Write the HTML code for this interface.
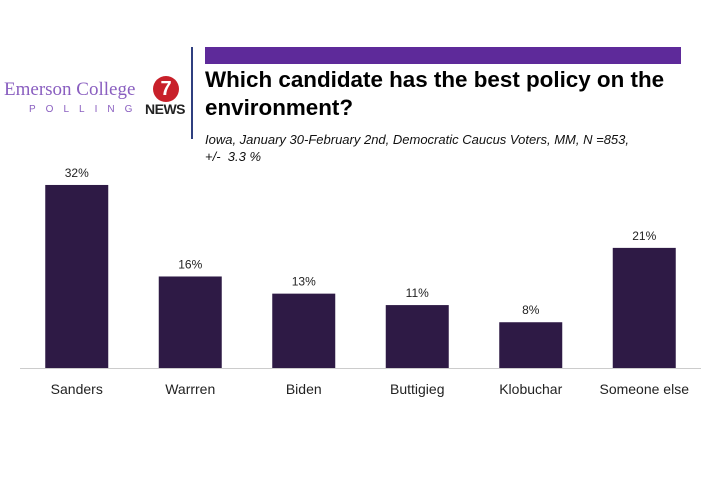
<!DOCTYPE html>
<html><head><meta charset="utf-8"><style>
body{margin:0;width:720px;height:498px;background:#fff;position:relative;overflow:hidden;font-family:"Liberation Sans",sans-serif}
.abs{position:absolute}
</style></head><body>
<div class="abs" style="left:4px;top:79px;font-family:'Liberation Serif',serif;font-size:19px;color:#8a5fc0;white-space:nowrap">Emerson College</div>
<div class="abs" style="left:29px;top:104px;font-size:10px;letter-spacing:10px;color:#8a5fc0">POLLING</div>
<div class="abs" style="left:153px;top:76px;width:26px;height:26px;border-radius:50%;background:#c8202a;color:#fff;font-weight:bold;font-size:20px;text-align:center;line-height:26px">7</div>
<div class="abs" style="left:145px;top:101px;font-weight:bold;font-size:14px;color:#222;letter-spacing:-0.5px">NEWS</div>
<div class="abs" style="left:191px;top:47px;width:2px;height:92px;background:#2f3f7f"></div>
<div class="abs" style="left:205px;top:47px;width:476px;height:17px;background:#5e2a9a"></div>
<div class="abs" style="left:205px;top:66px;font-weight:bold;font-size:22.4px;line-height:28px;color:#000">Which candidate has the best policy on the<br>environment?</div>
<div class="abs" style="left:205px;top:131px;font-style:italic;font-size:13px;line-height:17px;color:#111">Iowa, January 30-February 2nd, Democratic Caucus Voters, MM, N =853,<br>+/-&nbsp; 3.3 %</div>
<svg id="chart" class="abs" style="left:0;top:0" width="720" height="498"></svg>
<script>
const categories=["Sanders","Warrren","Biden","Buttigieg","Klobuchar","Someone else"];
const values=[32,16,13,11,8,21];
const valueLabels=["32%","16%","13%","11%","8%","21%"];
const svg=document.getElementById('chart');
const NS='http://www.w3.org/2000/svg';
const x0=20,x1=701,base=368,scale=5.72;
const slot=(x1-x0)/categories.length,bw=63;
const y=v=>base-v*scale;
function mk(t,a){const e=document.createElementNS(NS,t);for(const k in a)e.setAttribute(k,a[k]);svg.appendChild(e);return e;}
categories.forEach((c,i)=>{
 const cx=x0+slot*(i+0.5);
 const r=mk('rect',{x:cx-bw/2,y:y(values[i]),width:bw,height:base-y(values[i]),fill:'#2e1a45'});
 
 
 const t=mk('text',{x:cx,y:y(values[i])-8,'text-anchor':'middle','font-size':12,fill:'#222','font-family':'Liberation Sans'});
 t.textContent=valueLabels[i];
 
 
 const l=mk('text',{x:cx,y:394,'text-anchor':'middle','font-size':14,fill:'#222','font-family':'Liberation Sans'});
 l.textContent=c;
 
 
});
const ax=mk('line',{x1:x0,x2:x1,y1:base+0.5,y2:base+0.5,stroke:'#ccc','stroke-width':1});


</script>
</body></html>
